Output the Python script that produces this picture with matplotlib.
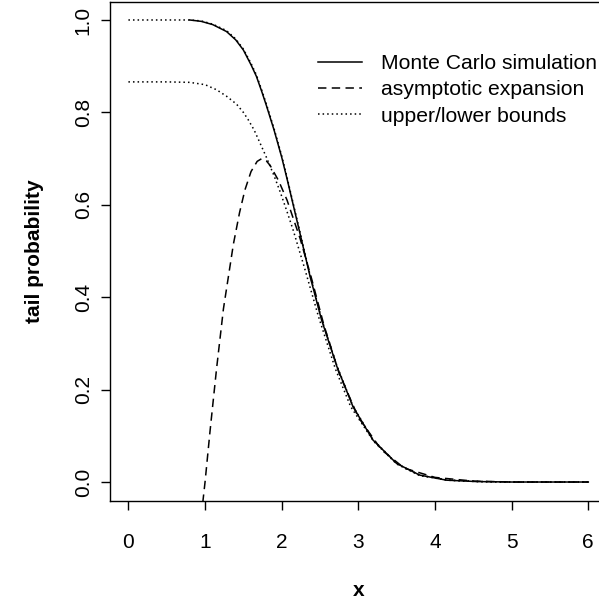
import numpy as np
import matplotlib.pyplot as plt

plt.rcParams.update({
    "font.family": "Liberation Sans",
    "font.size": 15,
})

# Monte Carlo simulation (solid)
mc_x = [0.80, 0.95, 1.10, 1.28, 1.40, 1.50, 1.60, 1.67, 1.74, 1.80, 1.90, 2.00, 2.07,
        2.15, 2.24, 2.37, 2.52, 2.72, 2.93, 3.19, 3.50, 3.80, 4.15, 4.54, 5.00, 5.50, 6.00]
mc_y = [1.000, 0.997, 0.990, 0.975, 0.957, 0.935, 0.903, 0.878, 0.845, 0.815, 0.762, 0.703, 0.656,
        0.600, 0.537, 0.445, 0.351, 0.250, 0.163, 0.091, 0.040, 0.015, 0.004, 0.001, 0.000, 0.000, 0.000]

# upper bound (dotted, sits on the MC curve)
ub_x = [0.00, 0.40, 0.80, 0.95, 1.10, 1.28, 1.40, 1.50, 1.60, 1.67, 1.74, 1.80, 1.90, 2.00, 2.07,
        2.15, 2.24, 2.37, 2.52, 2.72, 2.93, 3.19, 3.50, 3.80, 4.15, 4.54, 5.00, 5.50, 6.00]
ub_y = [1.000, 1.000, 1.000, 0.998, 0.991, 0.977, 0.959, 0.937, 0.906, 0.881, 0.848, 0.818, 0.765, 0.706, 0.659,
        0.603, 0.540, 0.448, 0.353, 0.252, 0.164, 0.092, 0.040, 0.015, 0.004, 0.001, 0.000, 0.000, 0.000]

# lower bound (dotted)
lb_x = [0.00, 0.50, 0.80, 1.00, 1.15, 1.28, 1.41, 1.50, 1.56, 1.64, 1.70, 1.80, 1.90, 1.98,
        2.07, 2.15, 2.30, 2.48, 2.70, 2.90, 3.20, 3.50, 3.80, 4.20, 4.60, 5.00, 6.00]
lb_y = [0.866, 0.866, 0.865, 0.860, 0.849, 0.835, 0.818, 0.800, 0.785, 0.762, 0.740, 0.703, 0.663, 0.628,
        0.585, 0.545, 0.462, 0.358, 0.245, 0.163, 0.088, 0.039, 0.014, 0.004, 0.001, 0.000, 0.000]

# asymptotic expansion (dashed)
ae_x = [0.970, 1.000, 1.065, 1.150, 1.240, 1.370, 1.450, 1.520, 1.600, 1.680, 1.740, 1.800, 1.850,
        1.960, 2.070, 2.240, 2.390, 2.550, 2.750, 3.000, 3.300, 3.600, 4.000, 4.500, 5.000, 6.000]
ae_y = [-0.045, 0.000, 0.110, 0.245, 0.375, 0.515, 0.583, 0.632, 0.672, 0.694, 0.700, 0.695, 0.685,
        0.652, 0.610, 0.527, 0.440, 0.340, 0.235, 0.140, 0.070, 0.030, 0.010, 0.002, 0.000, 0.000]

x_ticks = [0, 1, 2, 3, 4, 5, 6]
y_ticks = [0.0, 0.2, 0.4, 0.6, 0.8, 1.0]

W, H = 599, 606
fig = plt.figure(figsize=(W / 100, H / 100), dpi=100)
ax = fig.add_axes([110 / W, (H - 500.5) / H, (606.7 - 110) / W, (500.5 - 1.5) / H])

lw = 1.1
ax.plot(mc_x, mc_y, color="black", lw=lw, ls="-", label="Monte Carlo simulation")
ax.plot(ae_x, ae_y, color="black", lw=lw, dashes=(5.5, 3.5), label="asymptotic expansion")
ax.plot(lb_x, lb_y, color="black", lw=lw, dashes=(1.0, 2.0), label="upper/lower bounds")
ax.plot(ub_x, ub_y, color="black", lw=lw, dashes=(1.0, 2.0))

ax.set_xlim(-0.24, 6.24)
ax.set_ylim(-0.04, 1.04)
ax.set_xticks(x_ticks)
ax.set_xticklabels([str(v) for v in x_ticks])
ax.set_yticks(y_ticks)
ax.set_yticklabels([f"{v:.1f}" for v in y_ticks], rotation=90, va="center")
ax.tick_params(axis="both", direction="out", length=6.5, width=1.0, color="black")
ax.tick_params(axis="x", pad=17)
ax.tick_params(axis="y", pad=6)
for s in ax.spines.values():
    s.set_linewidth(1.0)

ax.set_xlabel("x", fontweight="bold", va="center")
ax.xaxis.set_label_coords(358.4 / W, 1 - 591 / H, transform=fig.transFigure)
ax.set_ylabel("tail probability", fontweight="bold", va="center")
ax.yaxis.set_label_coords(34 / W, 1 - 251 / H, transform=fig.transFigure)

leg = ax.legend(loc="upper left", bbox_to_anchor=(318 / W, 1 - 54 / H),
                bbox_transform=fig.transFigure, frameon=False, borderpad=0,
                borderaxespad=0, handlelength=2.1, handletextpad=0.9,
                labelspacing=0.35, fontsize=15.2)

fig.savefig("out.png", dpi=100)
